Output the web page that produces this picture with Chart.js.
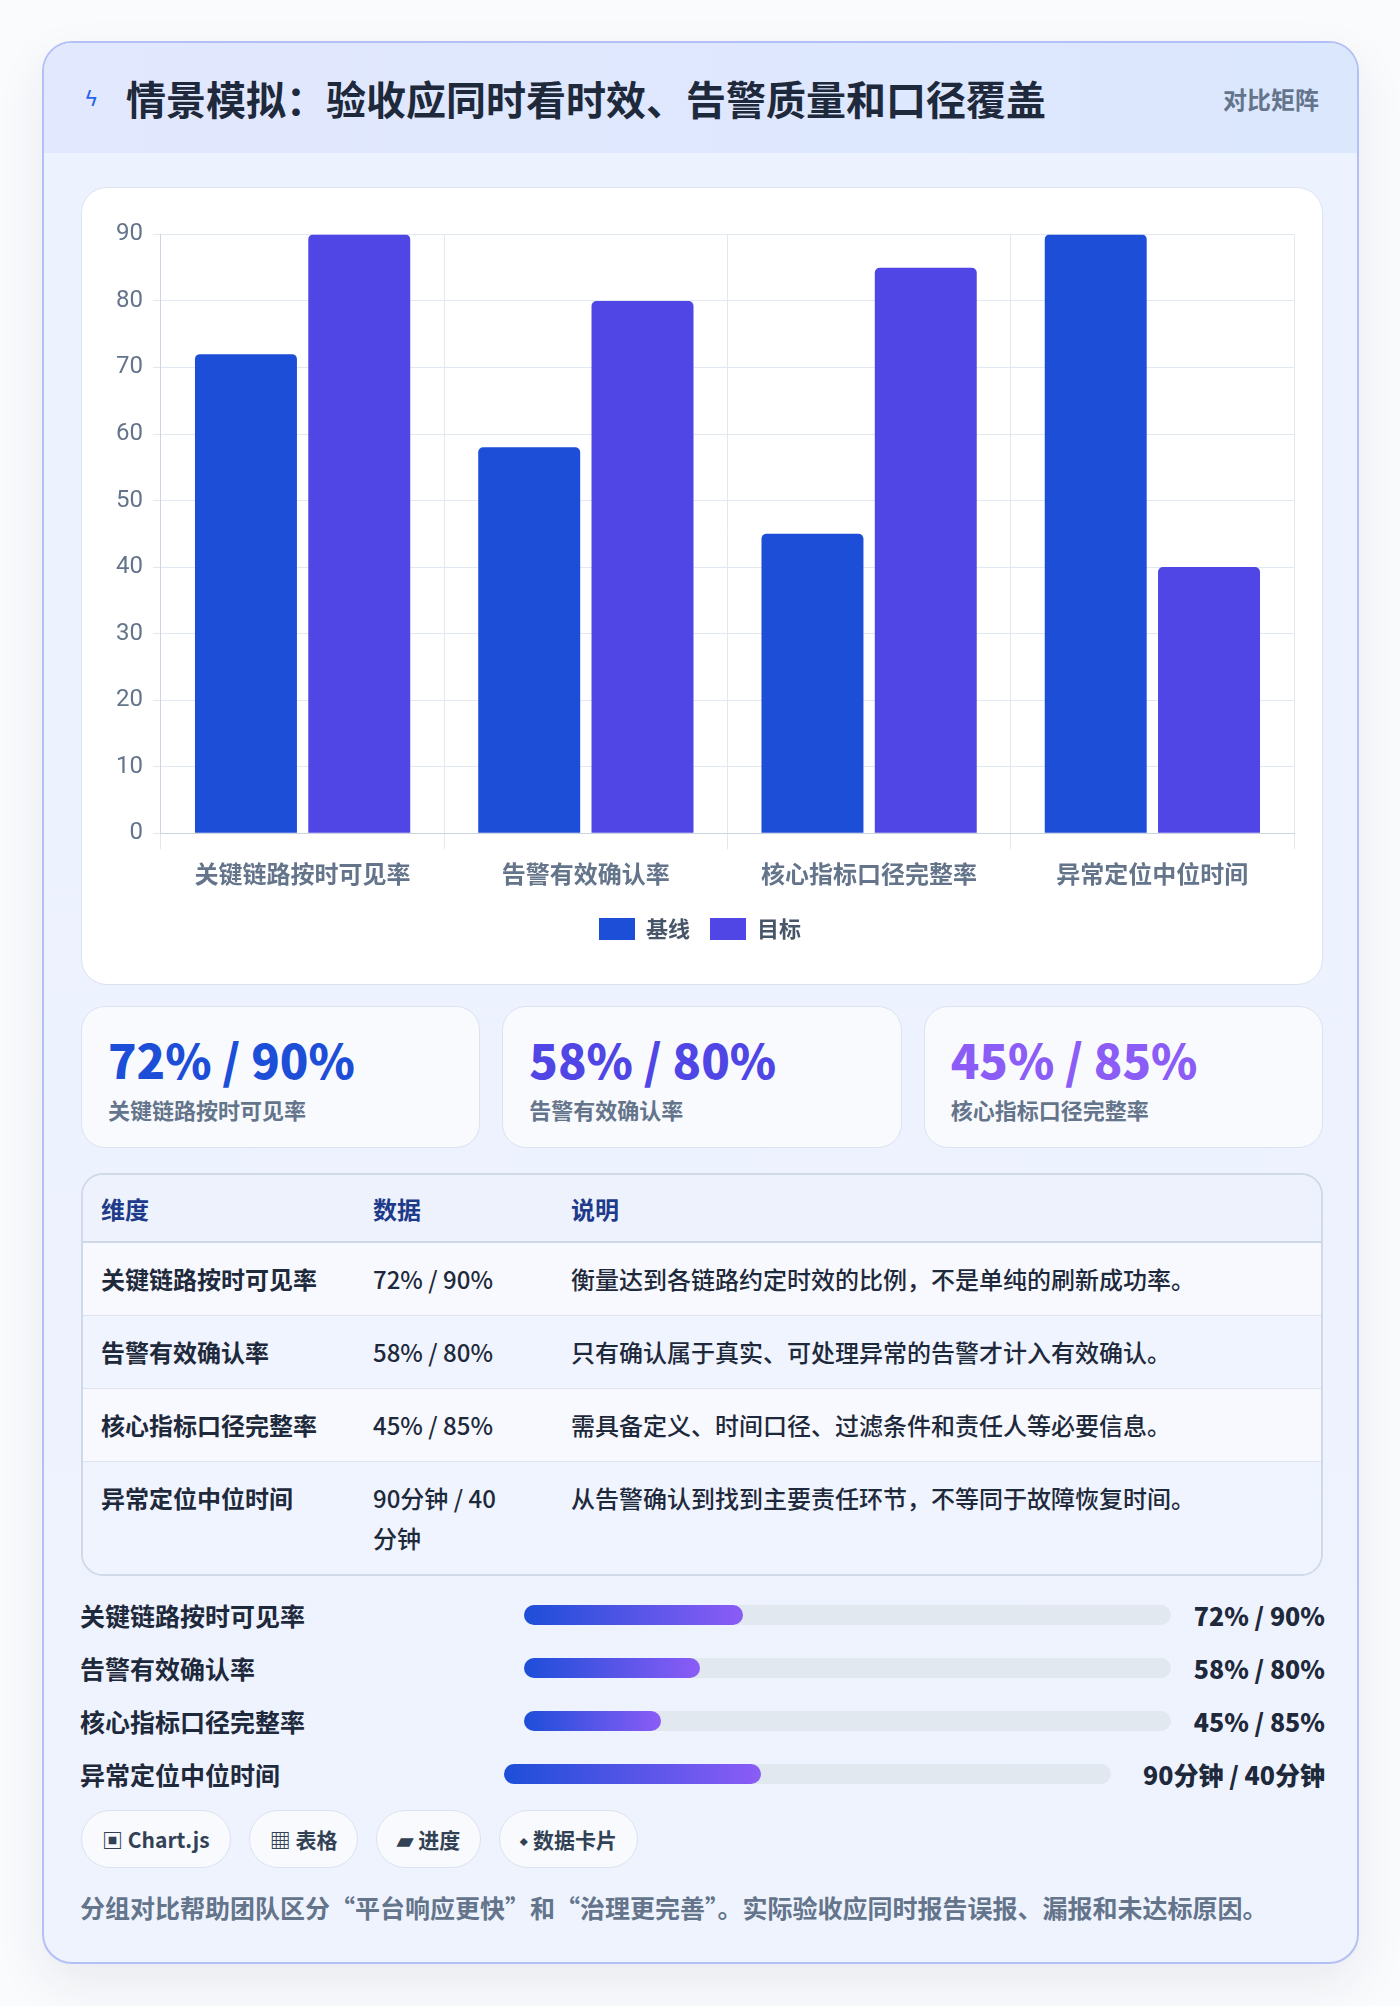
<!DOCTYPE html>
<html lang="zh">
<head>
<meta charset="utf-8">
<script src="https://cdn.jsdelivr.net/npm/chart.js@4/dist/chart.umd.min.js"></script>
<style>
  * { box-sizing: border-box; }
  body { margin: 0; background: #fafbfd; font-family: "Noto Sans CJK SC", "Noto Sans", sans-serif; width: 1400px; height: 2006px; }
  .card { position: absolute; left: 42px; top: 41px; width: 1317px; height: 1923px; border: 2px solid #b4c0f5; border-radius: 30px; background: linear-gradient(180deg, #ecf2fe, #eef3fe); overflow: hidden; box-shadow: 0 20px 50px rgba(30,41,59,0.08); }
  .head { height: 110px; background: linear-gradient(90deg, #e2e8fe, #dbe7fd); display: flex; align-items: center; padding: 0 38px 0 40px; }
  .head .icon { color: #2563eb; font-size: 22px; width: 42px; font-family: "DejaVu Sans"; }
  .head h1 { margin: 0; font-size: 40px; font-weight: 700; color: #1e293b; flex: 1; }
  .head .tag { font-size: 24px; font-weight: 700; color: #64748b; }
  .chartbox { position: absolute; left: 37px; top: 144px; width: 1242px; height: 798px; background: #fff; border: 1px solid #dbe3f0; border-radius: 26px; padding: 22px 20px 14px 24px; }
  .kpis { position: absolute; left: 37px; top: 963px; width: 1242px; display: flex; gap: 22px; }
  .kpi { flex: 1; height: 142px; background: #f8fafd; border: 1px solid #dbe3f0; border-radius: 24px; padding: 22px 26px; }
  .kpi .v { font-size: 47px; font-weight: 800; line-height: 60px; }
  .kpi .l { font-size: 22px; font-weight: 700; color: #64748b; margin-top: 4px; }
  table.t { position: absolute; left: 37px; top: 1130px; width: 1242px; border-collapse: separate; border-spacing: 0; border: 2px solid #d0d9e8; border-radius: 22px; overflow: hidden; font-size: 24px; }
  table.t th { text-align: left; color: #1e3a8a; font-weight: 700; height: 68px; padding: 0 18px; background: #edf2fd; border-bottom: 2px solid #cfd8e6; }
  table.t td { color: #1e293b; padding: 16px 18px; vertical-align: top; border-bottom: 1px solid #dde4ef; line-height: 40px; font-weight: 500; }
  table.t tr:nth-child(odd) td { background: #eff4fe; }
  table.t tr:nth-child(even) td { background: #f7f9fe; }
  table.t tr:last-child td { border-bottom: none; }
  table.t td:first-child { font-weight: 700; }
  .prog { position: absolute; left: 36px; width: 1245px; display: flex; align-items: center; height: 40px; font-size: 25px; font-weight: 700; color: #1e293b; }
  .prog .n { width: 444px; }
  .prog .track { flex: 1; height: 20px; border-radius: 10px; background: #e2e8f0; position: relative; }
  .prog .fill { position: absolute; left: 0; top: 0; bottom: 0; border-radius: 10px; background: linear-gradient(90deg, #1d4ed8, #8b5cf6); }
  .prog .val { margin-left: 18px; text-align: right; font-weight: 800; }
  .pills { position: absolute; left: 37px; top: 1767px; display: flex; gap: 18px; }
  .pill { height: 58px; border-radius: 29px; background: #f8fafd; border: 1px solid #dbe3f0; padding: 0 20px; display: flex; align-items: center; font-size: 21px; font-weight: 700; color: #334155; }
  .foot { position: absolute; left: 36px; top: 1846px; font-size: 25px; font-weight: 700; color: #64748b; }
</style>
</head>
<body>
<div class="card">
  <div class="head"><span class="icon">ϟ</span><h1>情景模拟：验收应同时看时效、告警质量和口径覆盖</h1><span class="tag">对比矩阵</span></div>
  <div class="chartbox"><canvas id="c" width="1196" height="760"></canvas></div>
  <div class="kpis" id="kpis"></div>
  <table class="t" id="tbl"></table>
  <div id="progs"></div>
  <div class="pills"><div class="pill">▣ Chart.js</div><div class="pill">▦ 表格</div><div class="pill">▰ 进度</div><div class="pill">⬩ 数据卡片</div></div>
  <div class="foot">分组对比帮助团队区分“平台响应更快”和“治理更完善”。实际验收应同时报告误报、漏报和未达标原因。</div>
</div>
<script>
const categories = ['关键链路按时可见率', '告警有效确认率', '核心指标口径完整率', '异常定位中位时间'];
const baseline = [72, 58, 45, 90];
const target = [90, 80, 85, 40];
const dataText = ['72% / 90%', '58% / 80%', '45% / 85%', '90分钟 / 40分钟'];
const notes = ['衡量达到各链路约定时效的比例，不是单纯的刷新成功率。', '只有确认属于真实、可处理异常的告警才计入有效确认。', '需具备定义、时间口径、过滤条件和责任人等必要信息。', '从告警确认到找到主要责任环节，不等同于故障恢复时间。'];
const kpiColors = ['#1d4ed8', '#4f46e5', '#8b5cf6'];

new Chart(document.getElementById('c'), {
  type: 'bar',
  data: {
    labels: categories,
    datasets: [
      { label: '基线', data: baseline, backgroundColor: '#1d4ed8', borderRadius: 5, categoryPercentage: 0.8, barPercentage: 0.9 },
      { label: '目标', data: target, backgroundColor: '#4f46e5', borderRadius: 5, categoryPercentage: 0.8, barPercentage: 0.9 }
    ]
  },
  options: {
    responsive: false, animation: false,
    layout: { padding: { bottom: 20, right: 8 } },
    plugins: {
      legend: { position: 'bottom', labels: { boxWidth: 36, boxHeight: 22, font: { size: 22, weight: 'bold', family: 'Noto Sans CJK SC' }, color: '#475569', padding: 20 } },
      tooltip: { enabled: false }
    },
    scales: {
      y: { min: 0, max: 90, ticks: { stepSize: 10, color: '#64748b', font: { size: 24, family: 'Roboto' }, padding: 10 }, grid: { color: '#e2e8f0' }, border: { color: '#cbd5e1' } },
      x: { ticks: { color: '#64748b', font: { size: 24, weight: 'bold', family: 'Noto Sans CJK SC' }, padding: 10 }, grid: { color: '#e2e8f0', tickLength: 16 }, border: { color: '#cbd5e1' } }
    }
  }
});

const kpis = document.getElementById('kpis');
for (let i = 0; i < 3; i++) {
  kpis.innerHTML += `<div class="kpi"><div class="v" style="color:${kpiColors[i]}">${baseline[i]}% / ${target[i]}%</div><div class="l">${categories[i]}</div></div>`;
}
const tbl = document.getElementById('tbl');
let h = '<tr><th style="width:272px">维度</th><th style="width:198px">数据</th><th>说明</th></tr>';
categories.forEach((c, i) => {
  const d = i === 3 ? '90分钟 / 40<br>分钟' : dataText[i];
  h += `<tr><td>${c}</td><td style="width:198px">${d}</td><td>${notes[i]}</td></tr>`;
});
tbl.innerHTML = h;
const progs = document.getElementById('progs');
const tops = [1552, 1605, 1658, 1711];
categories.forEach((c, i) => {
  const last = i === 3;
  progs.innerHTML += `<div class="prog" style="top:${tops[i]}px"><div class="n" style="width:${last ? 424 : 444}px">${c}</div><div class="track"><div class="fill" style="width:${baseline[i] * 0.47}%"></div></div><div class="val" style="width:${last ? 196 : 136}px">${dataText[i]}</div></div>`;
});
</script>
</body>
</html>
